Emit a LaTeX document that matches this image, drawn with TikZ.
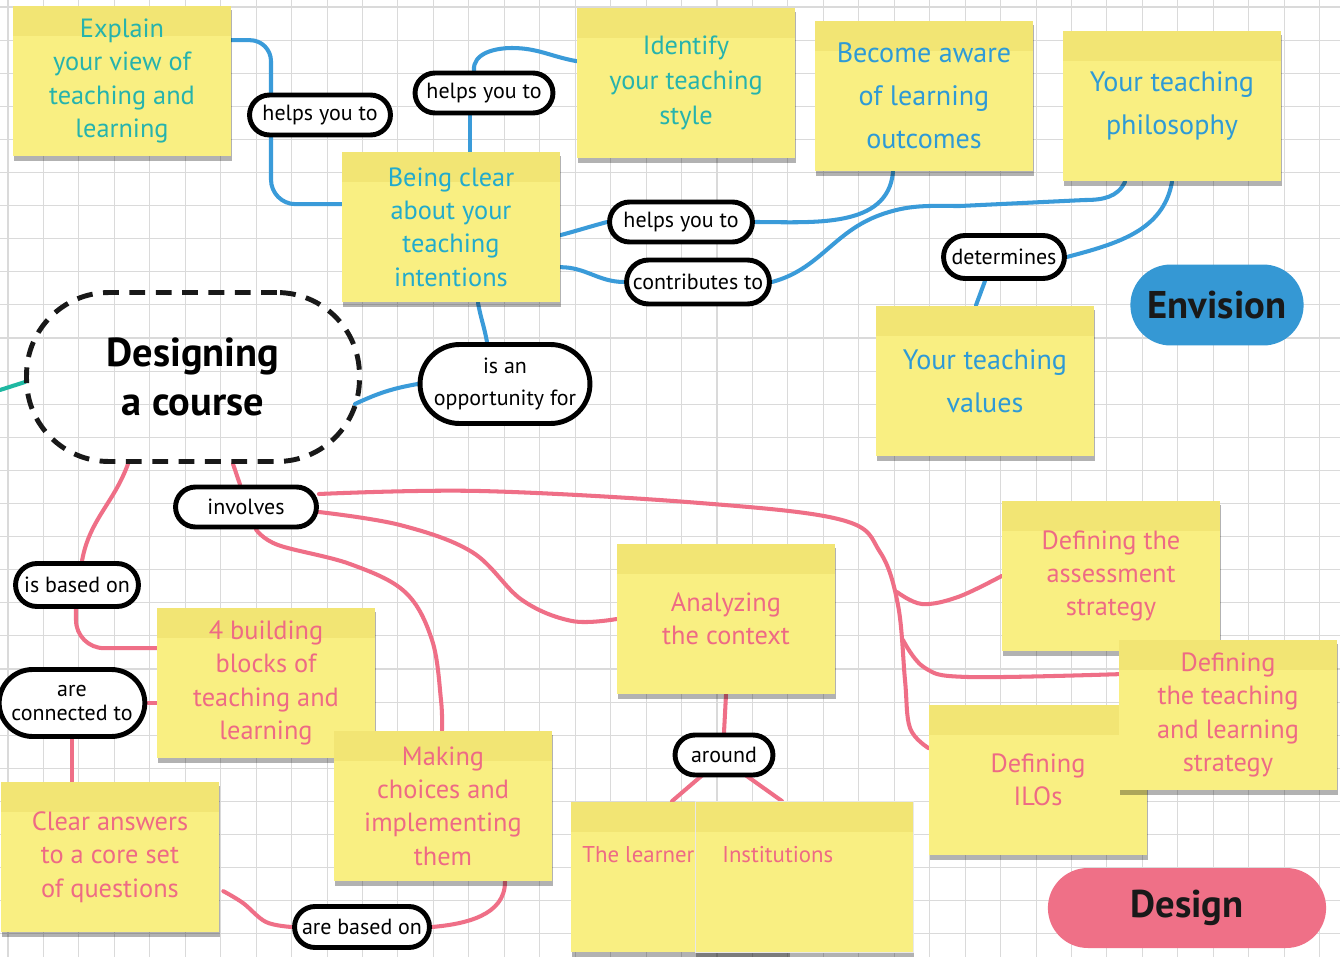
\documentclass[tikz,border=0pt]{standalone}
\usepackage{fontspec}
\setmainfont{PT Sans}
\usetikzlibrary{positioning,calc,shapes.misc,shadows}

\definecolor{notebody}{HTML}{F9EF82}
\definecolor{notetop}{HTML}{F2E574}
\definecolor{gridgray}{HTML}{DADADA}
\definecolor{tealtext}{HTML}{26B3AD}
\definecolor{cleartext}{HTML}{22ABCC}
\definecolor{bluetext}{HTML}{2E9AD6}
\definecolor{pinktext}{HTML}{EE6A85}
\definecolor{linkblue}{HTML}{3A9BD9}
\definecolor{linkpink}{HTML}{EF6F87}
\definecolor{linkteal}{HTML}{1FB8A2}
\definecolor{envblue}{HTML}{3598D4}
\definecolor{designpink}{HTML}{EF7087}

\pgfdeclarelayer{grid}
\pgfdeclarelayer{links}
\pgfsetlayers{grid,links,main}

\tikzset{
  note/.style={rectangle, minimum width=4.36cm, minimum height=3.02cm, inner sep=2pt,
    align=center, fill=notebody,
    drop shadow={shadow xshift=0.4pt, shadow yshift=-2.5pt, opacity=0.3, fill=black},
    path picture={\fill[notetop] (path picture bounding box.north west)
      rectangle ([yshift=-0.6cm]path picture bounding box.north east);},
    font=\fontsize{15}{19}\selectfont},
  tealnote/.style={note, text=tealtext},
  clearnote/.style={note, text=cleartext},
  bluenote/.style={note, text=bluetext, font=\fontsize{16}{24.5}\selectfont},
  pinknote/.style={note, text=pinktext},
  notelabel/.style={text=pinktext, font=\fontsize{13}{15}\selectfont, inner sep=0pt},
  pill/.style={rounded rectangle, draw=black, line width=2.8pt, fill=white,
    minimum height=0.8cm, inner xsep=4pt, inner ysep=2pt, align=center,
    font=\fontsize{12.5}{14}\selectfont},
  hub/.style={rectangle, rounded corners=1.65cm, draw=black!90, line width=2.8pt,
    dash pattern=on 9pt off 6pt, minimum width=6.66cm, minimum height=3.38cm,
    align=center, font=\bfseries\fontsize{23}{28}\selectfont},
  tag/.style={rounded rectangle, text=black!90, font=\bfseries\fontsize{22}{24}\selectfont},
  bluelink/.style={draw=linkblue, line width=2.3pt, line cap=round},
  pinklink/.style={draw=linkpink, line width=2.3pt, line cap=round},
  teallink/.style={draw=linkteal, line width=2.3pt, line cap=round},
}

\begin{document}
\begin{tikzpicture}[x=0.02cm, y=-0.02cm]
\useasboundingbox (0,0) rectangle (1340,957);

% squared paper
\begin{pgfonlayer}{grid}
  \fill[white] (0,0) rectangle (1340,957);
  \foreach \k in {0,...,37}
    \draw[gridgray, line width=0.6pt] ({8+35.45*\k},0) -- ({8+35.45*\k},957);
  \foreach \k in {0,...,28}
    \draw[gridgray, line width=0.6pt] (0,{7+33.1*\k}) -- (1340,{7+33.1*\k});
\end{pgfonlayer}

% sticky notes
\node[tealnote] (explain) at (122,81) {Explain\\your view of\\teaching and\\learning};
\node[clearnote] (clear) at (451,227) {Being clear\\about your\\teaching\\intentions};
\node[tealnote, font=\fontsize{15}{20}\selectfont] (identify) at (686,83) {Identify\\your teaching\\style};
\node[bluenote] (aware) at (924,96) {Become aware\\of learning\\outcomes};
\node[bluenote] (philosophy) at (1172,106) {Your teaching\\philosophy};
\node[bluenote] (values) at (985,381) {Your teaching\\values};
\node[pinknote] (blocks) at (266,683) {4 building\\blocks of\\teaching and\\learning};
\node[pinknote] (making) at (443,806) {Making\\choices and\\implementing\\them};
\node[pinknote] (answers) at (110,857) {Clear answers\\to a core set\\of questions};
\node[pinknote] (context) at (726,619) {Analyzing\\the context};
\node[pinknote] (ilos) at (1038,780) {Defining\\ILOs};
\node[pinknote] (assessment) at (1111,576) {Defining the\\assessment\\strategy};
\node[pinknote] (tlstrategy) at (1228,715) {Defining\\the teaching\\and learning\\strategy};
\node[pinknote] (learner) at (680,877) {};
\node[pinknote, draw=black!9, line width=0.5pt] (institutions) at (804,877) {};
\node[notelabel, anchor=west] (learnerlabel) at (582,855) {The learner};
\node[notelabel, anchor=west] (institutionslabel) at (722,855) {Institutions};

% central topic and the two phase tags
\node[hub] (designing) at (193,377) {Designing\\a course};
\node[tag, fill=envblue, minimum width=3.7cm, minimum height=1.62cm] (envision) at (1217,305) {Envision};
\node[tag, fill=designpink, minimum width=5.8cm, minimum height=1.6cm] (design) at (1187,908) {Design};

% link words
\node[pill, minimum width=3.1cm] (helps1) at (320,115) {helps you to};
\node[pill, minimum width=3.04cm] (helps2) at (484,93) {helps you to};
\node[pill, minimum width=3.14cm] (helps3) at (681,222) {helps you to};
\node[pill, minimum width=3.14cm, minimum height=0.88cm] (contributes) at (698,282) {contributes to};
\node[pill, minimum width=2.7cm, minimum height=0.86cm] (determines) at (1004,257) {determines};
\node[pill, minimum width=3.68cm, minimum height=1.58cm, font=\fontsize{12.5}{18}\selectfont] (opportunity) at (505,384) {is an\\opportunity for};
\node[pill, minimum width=3.1cm] (involves) at (246,507) {involves};
\node[pill, minimum width=2.74cm, minimum height=0.86cm] (basedon) at (77,585) {is based on};
\node[pill, minimum width=2.9cm, minimum height=1.34cm] (connected) at (72,703) {are\\connected to};
\node[pill, minimum width=2.24cm] (around) at (724,755) {around};
\node[pill, minimum width=2.98cm, minimum height=0.82cm] (arebased) at (362,927) {are based on};

\coordinate (offpage) at (0,390);
\coordinate (forkassess) at (897,592);
\coordinate (forkstrategy) at (903,640);

\begin{pgfonlayer}{links}
  % envision side
  \draw[bluelink, rounded corners=12pt] ($(explain.north east)+(0,35)$) -| (271,0 |- helps1.north);
  \draw[bluelink, rounded corners=14pt] (271,0 |- helps1.south) |- ($(clear.north west)+(0,53)$);
  \draw[bluelink] (470,0 |- clear.north) -- (470,0 |- helps2.south);
  \draw[bluelink] (474,0 |- helps2.north) to[out=95,in=180] (512,48) to[out=0,in=170] ($(identify.north west)+(0,54)$);
  \draw[bluelink] ($(clear.north east)+(0,84)$) to[out=15,in=195] (helps3.west);
  \draw[bluelink] (helps3.east) to[out=0,in=-95] (893,0 |- aware.south);
  \draw[bluelink] ($(clear.north east)+(0,116)$) to[out=0,in=180] (contributes.west);
  \draw[bluelink] (contributes.east) to[out=15,in=200] (880,215) to[out=20,in=180] (960,206)
    -- (1085,200) to[out=0,in=-115] (1125,0 |- philosophy.south);
  \draw[bluelink] (1172,0 |- philosophy.south) to[out=-100,in=15] (determines.east);
  \draw[bluelink] (985,0 |- determines.south) -- (976,0 |- values.north);
  \draw[bluelink] (478,0 |- clear.south) to[out=-80,in=100] (487,0 |- opportunity.north);
  \draw[bluelink] (opportunity.west) to[out=190,in=25] ($(designing.east)+(-7,27)$);
  \draw[teallink] (offpage) -- ($(designing.west)+(1,5)$);

  % design side
  \draw[pinklink] ($(designing.south)+(-65,0)$) to[out=-110,in=80] (82,0 |- basedon.north);
  \draw[pinklink, rounded corners=16pt] (76,0 |- basedon.south) |- ($(blocks.north west)+(0,41)$);
  \draw[pinklink] (connected.east) -- (blocks.west |- connected.east);
  \draw[pinklink] (connected.south) -- (connected.south |- answers.north);
  \draw[pinklink] ($(designing.south)+(40,0)$) -- ($(involves.north)+(-6,0)$);
  \draw[pinklink] plot[smooth, tension=0.6] coordinates {($(involves.east)+(0,-13)$) (480,491) (700,503)
    (842,520) (880,552) (898,605) (905,680) (910,728) ($(ilos.north west)+(0,44)$)};
  \draw[pinklink] plot[smooth, tension=0.6] coordinates {(forkassess) (922,604) (958,597) (assessment.west)};
  \draw[pinklink] plot[smooth, tension=0.6] coordinates {(forkstrategy) (925,668) (968,677)
    ($(tlstrategy.north west)+(0,35)$)};
  \draw[pinklink] plot[smooth, tension=0.6] coordinates {($(involves.east)+(0,5)$) (400,525) (472,552)
    (522,600) (572,621) (context.west)};
  \draw[pinklink] plot[smooth, tension=0.6] coordinates {($(involves.south)+(10,0)$) (278,545) (350,564)
    (405,592) (432,640) (441,700) (442,0 |- making.north)};
  \draw[pinklink] (context.south) -- (around.north);
  \draw[pinklink] ($(around.south)+(-22,-2)$) -- (672,0 |- learner.north);
  \draw[pinklink] ($(around.south)+(22,-2)$) -- (782,0 |- institutions.north);
  \draw[pinklink] plot[smooth, tension=0.6] coordinates {($(answers.north east)+(4,110)$) (243,903)
    (266,922) (arebased.west)};
  \draw[pinklink] (arebased.east) to[out=5,in=-90] (505,0 |- making.south);
\end{pgfonlayer}
\end{tikzpicture}
\end{document}
